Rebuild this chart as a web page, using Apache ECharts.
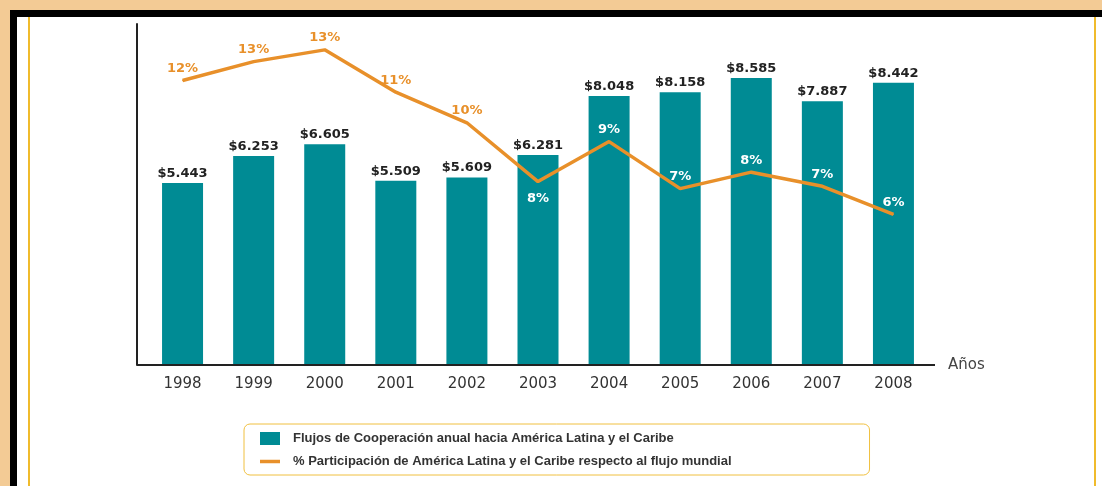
<!DOCTYPE html>
<html>
<head>
<meta charset="utf-8">
<script src="https://cdn.jsdelivr.net/npm/echarts@6/dist/echarts.min.js"></script>
<style>
  html, body { margin: 0; padding: 0; }
  body { width: 1102px; height: 486px; background: #f3cb95; position: relative; overflow: hidden; }
  #frame { position: absolute; left: 10px; top: 10px; right: 0; bottom: 0;
    border-left: 7px solid #000; border-top: 7px solid #000; background: #fff; }
  .yline { position: absolute; top: 17px; bottom: 0; width: 2px; background: #f0bb2c; }
  #chart { position: absolute; left: 0; top: 0; width: 1102px; height: 486px; }
</style>
</head>
<body>
<div id="frame"></div>
<div class="yline" style="left:28px"></div>
<div class="yline" style="left:1094px"></div>
<div id="chart"></div>
<script>
// datos
const years = ["1998", "1999", "2000", "2001", "2002", "2003", "2004", "2005", "2006", "2007", "2008"];
const flujos = [5443, 6253, 6605, 5509, 5609, 6281, 8048, 8158, 8585, 7887, 8442];
const flujoLabels = ["$5.443", "$6.253", "$6.605", "$5.509", "$5.609", "$6.281", "$8.048", "$8.158", "$8.585", "$7.887", "$8.442"];
const participacion = [12.1, 12.9, 13.4, 11.6, 10.3, 7.8, 9.5, 7.5, 8.2, 7.6, 6.4];
const partLabels = ["12%", "13%", "13%", "11%", "10%", "8%", "9%", "7%", "8%", "7%", "6%"];

const barName = "Flujos de Cooperación anual hacia América Latina y el Caribe";
const lineName = "% Participación de América Latina y el Caribe respecto al flujo mundial";

const teal = "#008b94";
const orange = "#e8902a";

let chart = echarts.init(document.getElementById("chart"));

let lineData = participacion.map((v, i) => ({
  value: v,
  label: {
    formatter: partLabels[i],
    color: i < 5 ? orange : "#fff",
    position: i === 5 ? "bottom" : "top",
    distance: i === 5 ? 10 : 5
  }
}));

let option = {
  animation: false,
  textStyle: { fontFamily: "DejaVu Sans" },
  grid: { left: 147, right: 173, top: 24, bottom: 121 },
  legend: {
    orient: "vertical",
    left: 244,
    top: 424,
    padding: [8, 138, 7, 16],
    itemGap: 10,
    itemWidth: 20,
    itemHeight: 13,
    borderColor: "#f0c040",
    borderWidth: 1,
    borderRadius: 6,
    textStyle: {
      fontFamily: "Liberation Sans",
      fontSize: 13,
      fontWeight: "bold",
      color: "#333",
      padding: [0, 0, 0, 8]
    },
    data: [
      { name: barName, icon: "rect" },
      { name: lineName, icon: "path://M0,0h20v3.5h-20z" }
    ]
  },
  xAxis: {
    type: "category",
    data: years,
    name: "Años",
    nameLocation: "end",
    nameGap: 19,
    nameTextStyle: { fontSize: 15, color: "#444", verticalAlign: "middle" },
    axisLine: { show: false },
    axisTick: { show: false },
    axisLabel: { fontSize: 15, color: "#333", margin: 12 }
  },
  yAxis: [
    {
      type: "value",
      min: 0,
      max: 10200,
      offset: 10,
      axisLine: { show: true, lineStyle: { color: "#222", width: 2 } },
      axisTick: { show: false },
      axisLabel: { show: false },
      splitLine: { show: false }
    },
    {
      type: "value",
      min: 0,
      max: 14.5,
      show: false
    }
  ],
  graphic: [
    {
      type: "line",
      shape: { x1: 137, y1: 365, x2: 935, y2: 365 },
      style: { stroke: "#222", lineWidth: 2 },
      z: 10
    }
  ],
  series: [
    {
      name: barName,
      type: "bar",
      data: flujos,
      barWidth: 41,
      itemStyle: { color: teal },
      label: {
        show: true,
        position: "top",
        distance: 3,
        formatter: p => flujoLabels[p.dataIndex],
        fontSize: 13,
        fontWeight: "bold",
        color: "#222"
      }
    },
    {
      name: lineName,
      type: "line",
      yAxisIndex: 1,
      data: lineData,
      symbol: "circle",
      symbolSize: 1,
      lineStyle: { color: orange, width: 3.5 },
      itemStyle: { color: orange },
      label: {
        show: true,
        fontSize: 13,
        fontWeight: "bold"
      },
      z: 5
    }
  ]
};
chart.setOption(option);
</script>
</body>
</html>
